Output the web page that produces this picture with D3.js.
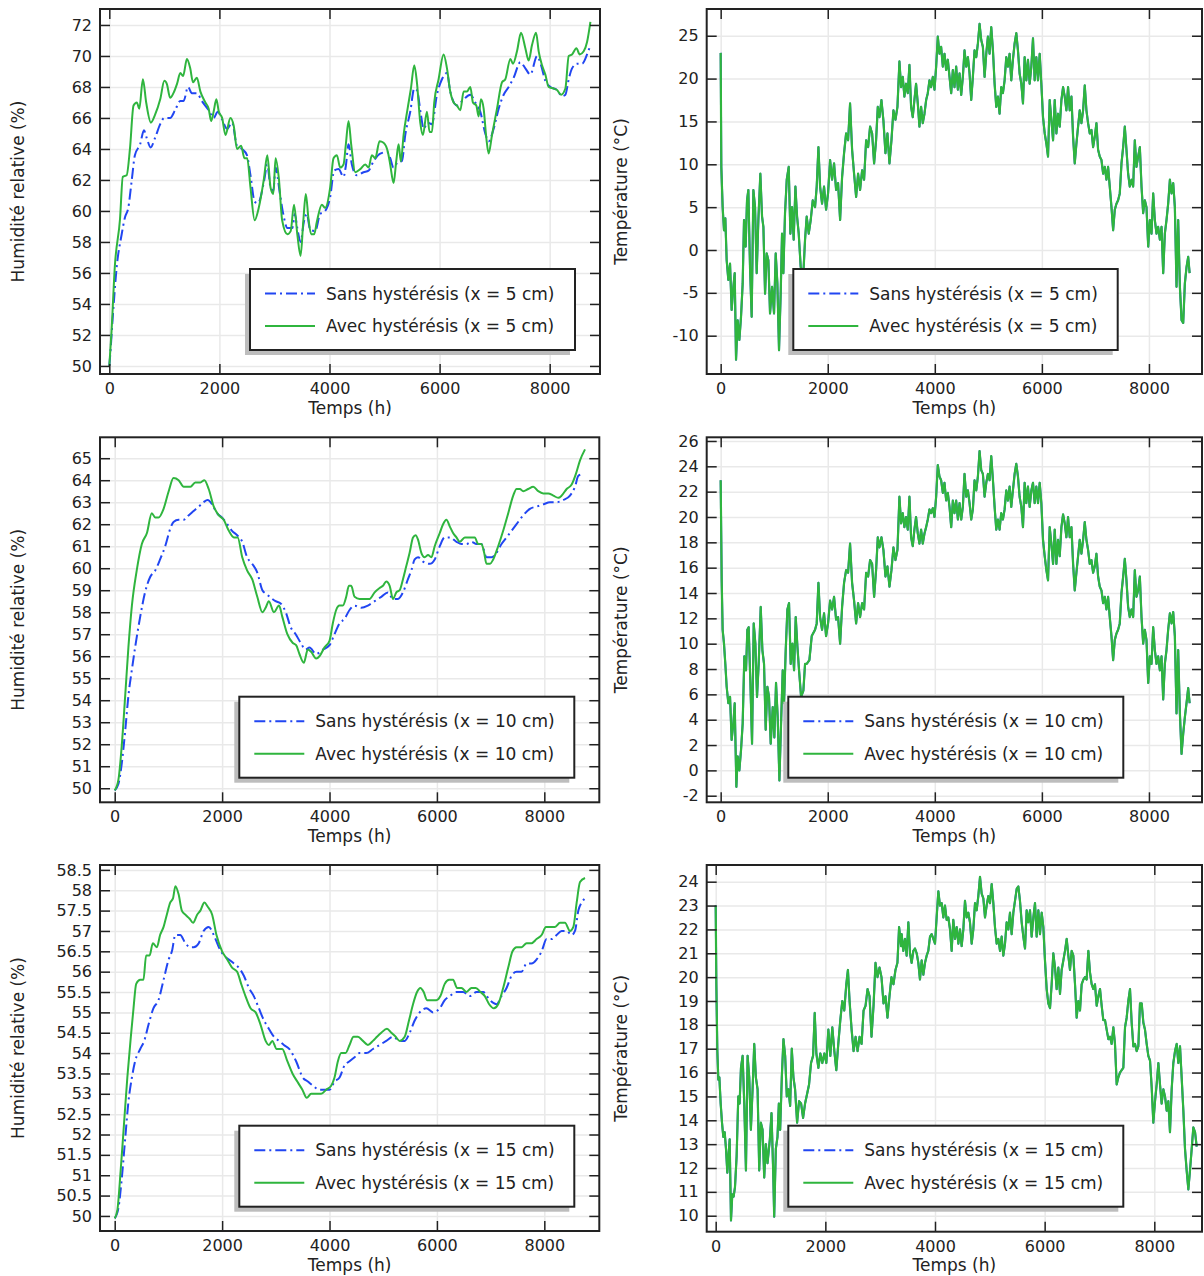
<!DOCTYPE html>
<html><head><meta charset="utf-8">
<script src="https://cdn.jsdelivr.net/npm/d3@7"></script>
<style>
html,body{margin:0;padding:0;background:#fff;}
svg{display:block;font-family:"DejaVu Sans",Verdana,sans-serif;}
</style></head><body>
<svg id="chart" width="1204" height="1276"></svg>
<script>
// ---------- DATA (hours, value) ----------
const xTicks = [0, 2000, 4000, 6000, 8000];
const hrTicks5 = [50,52,54,56,58,60,62,64,66,68,70,72];
const hrTicks10 = [50,51,52,53,54,55,56,57,58,59,60,61,62,63,64,65];
const hrTicks15 = [50,50.5,51,51.5,52,52.5,53,53.5,54,54.5,55,55.5,56,56.5,57,57.5,58,58.5];
const tTicks5 = [-10,-5,0,5,10,15,20,25];
const tTicks10 = [-2,0,2,4,6,8,10,12,14,16,18,20,22,24,26];
const tTicks15 = [10,11,12,13,14,15,16,17,18,19,20,21,22,23,24];

const hr5Avec = [[0,50],[40,52.2],[100,56.4],[195,59.5],[245,62.2],[315,62.3],[375,64],[440,66.8],[500,67],[545,66.6],[610,68.5],[670,67],[755,65.7],[830,66.2],[925,67.2],[1000,68.4],[1045,68.2],[1105,67.3],[1165,67.6],[1230,68.2],[1290,68.9],[1340,68.7],[1410,69.8],[1470,69.2],[1520,68.3],[1590,68.6],[1655,67.7],[1745,67],[1805,66.6],[1850,65.8],[1895,66.4],[1945,67.2],[1990,66.4],[2050,66],[2110,64.9],[2200,66],[2260,65.5],[2320,64],[2395,64.2],[2455,63.4],[2505,63.4],[2565,61.5],[2640,59.4],[2715,60.2],[2810,62.1],[2870,63.6],[2930,61.5],[2980,61.1],[3020,63.4],[3080,62.1],[3140,59.4],[3235,58.5],[3295,58.7],[3355,60.4],[3415,58.5],[3475,57.1],[3525,59.4],[3570,61.1],[3618,59.5],[3667,58.5],[3722,58.5],[3770,59.3],[3861,60.4],[3921,60.2],[4012,61.5],[4073,63.4],[4134,63.6],[4194,62.8],[4255,63],[4297,64.3],[4346,65.8],[4394,64.3],[4467,62.5],[4558,62.7],[4649,63],[4710,62.8],[4770,63.6],[4831,63.4],[4910,64.5],[4982,64.4],[5061,63.8],[5103,63],[5164,61.8],[5212,63.2],[5255,64.3],[5297,63.2],[5346,64.9],[5419,66.6],[5479,67.9],[5540,69.4],[5588,68.3],[5649,65.7],[5697,64.9],[5770,66.4],[5818,65.1],[5861,65.1],[5903,67],[5982,68.5],[6073,70.1],[6134,69.2],[6194,67.7],[6255,67],[6315,66.8],[6376,66.5],[6437,67.7],[6497,67.7],[6558,68],[6606,67],[6667,66.8],[6709,66.1],[6752,67.2],[6800,66.6],[6849,64.7],[6891,63.7],[6952,64.9],[7043,66.6],[7134,68.3],[7194,68.5],[7285,69.8],[7334,69.5],[7406,70.3],[7479,71.5],[7558,70.5],[7618,69.7],[7679,70.7],[7752,71.5],[7800,70.3],[7861,69.4],[7921,68.8],[7982,68],[8073,67.9],[8134,67.8],[8206,67.5],[8285,67.9],[8346,70],[8406,70.1],[8485,70.5],[8546,70.1],[8618,70.3],[8679,70.9],[8740,72.2]];
const hr5Sans = [[0,50],[12,50.5],[60,53],[135,56.4],[225,58.5],[285,59.6],[345,60.2],[405,61.9],[465,63.6],[560,64.3],[630,65.2],[680,64.7],[750,64.1],[830,64.7],[925,65.6],[1000,66],[1105,66],[1195,66.5],[1290,67.1],[1350,67.1],[1430,68],[1500,67.6],[1590,67.6],[1680,67.1],[1805,66.5],[1895,66],[1970,66.4],[2050,65.9],[2140,65.3],[2230,65.7],[2320,64.2],[2410,64],[2500,63.6],[2565,62.3],[2640,60.6],[2700,60.5],[2810,61.9],[2870,63],[2930,61.5],[2980,61.3],[3020,62.8],[3100,61.1],[3160,59.8],[3235,58.9],[3325,58.9],[3370,59.8],[3415,58.9],[3475,58],[3535,59.3],[3588,59.8],[3649,58.8],[3740,58.7],[3830,59.8],[3921,60],[4012,60.9],[4085,62.6],[4164,62.7],[4255,62.2],[4297,62.9],[4346,64.3],[4406,63],[4497,62.3],[4618,62.5],[4710,62.6],[4800,63.2],[4922,63.7],[5043,63.8],[5103,63.4],[5164,62.8],[5255,63.2],[5315,63.2],[5376,64.9],[5467,66.4],[5540,67.9],[5588,67.8],[5661,66.2],[5709,65.3],[5782,65.7],[5861,65.6],[5952,67.5],[6043,68.5],[6134,68.9],[6194,67.7],[6315,66.8],[6437,67.2],[6558,67.5],[6649,67],[6740,66.4],[6830,65],[6891,64.5],[6982,65.3],[7073,66.6],[7164,67.5],[7255,68],[7346,68.6],[7467,69.6],[7558,69.2],[7649,68.8],[7770,70],[7843,69.4],[7921,68.4],[8012,68],[8134,67.8],[8225,67.4],[8285,67.5],[8346,68.5],[8406,69.2],[8497,69.5],[8588,69.5],[8679,70.1],[8740,70.7]];

const hr10Avec = [[0,49.9],[70,50.4],[130,51.9],[195,54.2],[255,56.4],[320,58.3],[410,59.9],[505,61.1],[600,61.6],[690,62.5],[755,62.3],[815,62.3],[910,62.7],[1005,63.5],[1095,64.1],[1190,64],[1285,63.7],[1410,63.7],[1500,63.9],[1595,63.9],[1670,64],[1750,63.6],[1845,62.8],[1940,62.4],[2030,62.2],[2125,61.7],[2220,61.4],[2290,61.4],[2375,60.5],[2465,59.9],[2560,59.5],[2655,58.7],[2750,58],[2810,58.2],[2870,58.5],[2965,58],[3060,58.3],[3120,57.8],[3215,57],[3316,56.6],[3378,56.5],[3440,56.1],[3521,55.7],[3596,56.3],[3658,56.2],[3751,55.9],[3813,56],[3907,56.4],[4000,56.7],[4062,57.5],[4124,58.1],[4187,58.3],[4249,58.3],[4311,58.7],[4361,59.2],[4404,59.2],[4467,58.7],[4560,58.6],[4653,58.6],[4746,58.6],[4840,58.9],[4933,59.1],[4995,59.2],[5057,59.4],[5120,59.2],[5182,58.6],[5244,58.9],[5306,59],[5368,59.5],[5430,60.1],[5492,60.7],[5555,61.4],[5604,61.5],[5648,61.3],[5710,60.7],[5772,60.5],[5835,60.6],[5897,60.5],[5959,61],[6053,61.6],[6115,62],[6177,62.2],[6239,61.9],[6301,61.6],[6364,61.4],[6426,61.2],[6519,61.4],[6612,61.4],[6705,61.4],[6768,61.1],[6830,61.1],[6880,60.7],[6923,60.2],[6986,60.2],[7048,60.4],[7141,61],[7234,61.7],[7328,62.5],[7421,63.3],[7483,63.6],[7545,63.6],[7607,63.5],[7701,63.6],[7794,63.7],[7887,63.5],[7981,63.4],[8074,63.4],[8167,63.3],[8260,63.2],[8323,63.3],[8416,63.6],[8509,63.8],[8590,64.3],[8665,64.9],[8758,65.4]];
const hr10Sans = [[0,49.9],[70,50.2],[130,51.1],[195,52.6],[255,54.2],[320,55.4],[380,56.4],[475,57.8],[565,58.9],[660,59.6],[755,59.9],[845,60.4],[940,61],[1035,61.8],[1095,62.1],[1190,62.2],[1285,62.2],[1375,62.4],[1470,62.6],[1565,62.8],[1655,63],[1730,63.1],[1815,62.9],[1905,62.5],[2000,62.3],[2095,62],[2185,61.7],[2280,61.5],[2375,61.2],[2465,60.5],[2560,60.2],[2655,59.8],[2750,59],[2840,58.8],[2935,58.6],[2995,58.5],[3090,58.4],[3185,58],[3280,57.3],[3370,57],[3465,56.6],[3555,56.3],[3627,56.4],[3751,56.1],[3876,56.3],[4000,56.5],[4093,57],[4187,57.5],[4280,57.7],[4373,58.1],[4467,58.3],[4591,58.2],[4715,58.3],[4840,58.5],[4964,58.7],[5089,58.9],[5182,58.6],[5275,58.6],[5368,58.9],[5461,59.5],[5524,59.9],[5586,60.4],[5648,60.5],[5742,60.3],[5866,60.2],[5959,60.4],[6053,61],[6146,61.4],[6239,61.4],[6364,61.2],[6457,61.1],[6550,61.1],[6644,61.2],[6737,61.1],[6830,61.1],[6923,60.5],[7017,60.5],[7110,60.7],[7203,61.1],[7297,61.4],[7390,61.7],[7483,62],[7607,62.4],[7732,62.7],[7856,62.8],[7981,62.9],[8105,63],[8229,63],[8354,63.1],[8478,63.3],[8571,63.7],[8634,64.2],[8727,64.3]];

const hr15Avec = [[0,49.94],[50,50.15],[110,51.1],[175,52.3],[235,53.4],[300,54.4],[350,55.1],[400,55.7],[475,55.8],[535,55.8],[585,56.4],[650,56.4],[710,56.7],[785,56.6],[845,56.9],[910,57.1],[970,57.4],[1035,57.7],[1085,57.8],[1130,58.1],[1190,57.9],[1250,57.5],[1315,57.4],[1395,57.3],[1460,57.2],[1535,57.4],[1595,57.5],[1670,57.7],[1730,57.6],[1815,57.4],[1895,56.9],[2000,56.5],[2095,56.3],[2185,56.1],[2280,56],[2355,55.7],[2435,55.4],[2530,55.1],[2625,55],[2715,54.7],[2810,54.3],[2870,54.2],[2935,54.3],[3015,54.1],[3120,54.1],[3215,53.8],[3310,53.5],[3400,53.3],[3495,53.1],[3575,52.9],[3658,53],[3751,53],[3845,53],[3938,53.1],[4031,53.2],[4093,53.4],[4156,53.8],[4218,54],[4299,54],[4373,54.2],[4448,54.4],[4529,54.4],[4622,54.3],[4715,54.2],[4809,54.3],[4883,54.4],[4964,54.5],[5070,54.6],[5151,54.5],[5232,54.4],[5306,54.3],[5400,54.4],[5480,54.8],[5555,55.2],[5630,55.5],[5692,55.6],[5754,55.5],[5816,55.3],[5897,55.3],[5990,55.3],[6065,55.4],[6146,55.7],[6227,55.8],[6301,55.8],[6376,55.6],[6457,55.6],[6550,55.5],[6644,55.6],[6724,55.6],[6811,55.5],[6892,55.4],[6973,55.2],[7060,55.1],[7141,55.2],[7234,55.6],[7328,56.1],[7408,56.5],[7483,56.6],[7577,56.6],[7670,56.7],[7763,56.7],[7856,56.8],[7950,56.9],[8031,57.1],[8105,57.1],[8199,57.1],[8292,57.2],[8385,57.2],[8478,57],[8541,57.1],[8603,57.7],[8665,58.2],[8758,58.3]];
const hr15Sans = [[0,49.94],[70,50.2],[130,50.9],[195,51.9],[255,52.8],[320,53.4],[380,53.8],[475,54.1],[550,54.3],[630,54.7],[720,55.1],[815,55.3],[910,55.8],[1005,56.3],[1065,56.5],[1130,56.9],[1220,56.9],[1315,56.7],[1410,56.6],[1470,56.6],[1565,56.7],[1655,57],[1750,57.1],[1845,56.9],[1940,56.6],[2030,56.4],[2125,56.3],[2220,56.2],[2310,56.1],[2405,55.9],[2500,55.6],[2590,55.4],[2685,55.1],[2780,54.8],[2870,54.6],[2965,54.4],[3060,54.3],[3150,54.2],[3254,54.1],[3378,53.8],[3502,53.4],[3596,53.3],[3689,53.2],[3813,53.1],[3907,53.1],[4000,53.1],[4093,53.3],[4187,53.4],[4280,53.7],[4373,53.8],[4467,53.9],[4560,54],[4684,54],[4809,54.1],[4933,54.2],[5057,54.3],[5182,54.4],[5306,54.3],[5400,54.3],[5493,54.5],[5586,54.8],[5679,55],[5804,55.1],[5928,55],[6053,55.1],[6146,55.3],[6239,55.4],[6364,55.5],[6488,55.5],[6612,55.4],[6737,55.5],[6861,55.5],[6986,55.3],[7110,55.2],[7203,55.4],[7297,55.6],[7390,55.9],[7483,56],[7577,56],[7670,56.2],[7763,56.2],[7856,56.3],[7950,56.5],[8043,56.8],[8136,56.8],[8229,56.9],[8323,57],[8416,57],[8509,56.9],[8571,57],[8634,57.5],[8696,57.7],[8758,57.8]];

const temp5Avec = [[0,23],[12,9.7],[37,5],[62,2.3],[87,3.7],[112,-1.2],[143,-3.5],[175,-1.6],[205,-7],[237,-4.3],[262,-2.7],[287,-12.8],[318,-8.2],[349,-10.5],[380,-7.8],[411,-3.9],[436,3.5],[467,0.4],[492,5.8],[517,7],[548,-2],[579,-7.8],[611,7],[642,5],[673,-2.7],[704,3.5],[741,8.9],[773,3.9],[798,2.7],[829,-5.1],[860,-0.4],[891,-1.2],[922,-7.4],[960,-4.3],[997,-7.4],[1028,-0.4],[1059,-3.9],[1090,-11.7],[1121,-5.1],[1146,1.9],[1171,-2.7],[1202,4.3],[1234,8.2],[1271,9.7],[1302,1.9],[1333,5],[1364,1.2],[1396,7.4],[1427,3.9],[1458,1.9],[1495,-2],[1545,-2.7],[1576,1.2],[1607,3.9],[1645,1.9],[1682,3.5],[1720,5.8],[1763,5],[1794,7.4],[1826,12],[1857,7.4],[1894,5.4],[1931,7.4],[1969,4.7],[2006,6.6],[2044,10.5],[2081,8.2],[2118,10.1],[2156,7],[2193,7.8],[2231,3.5],[2268,8.5],[2305,11.3],[2343,13.6],[2380,12.8],[2417,17.1],[2455,11.7],[2492,8.9],[2530,6.2],[2567,8.9],[2604,7],[2642,9.3],[2679,8.2],[2717,12.8],[2754,12],[2791,14.4],[2829,13.6],[2866,10.1],[2903,12.8],[2935,16.7],[2966,15.5],[3003,17.5],[3040,15.1],[3078,11.3],[3115,13.6],[3153,10.1],[3190,12.8],[3227,16.3],[3265,15.2],[3302,16.7],[3339,22],[3370,19],[3401,20.2],[3432,17.9],[3463,19.4],[3495,18.3],[3526,21.6],[3557,16.7],[3588,15.5],[3619,17.5],[3650,19.4],[3682,17.1],[3713,14.4],[3744,16.7],[3775,14.8],[3807,15.9],[3838,17.5],[3869,18.3],[3900,19.8],[3931,19],[3963,20.2],[3994,18.7],[4025,21.4],[4056,24.9],[4087,22.9],[4118,23.7],[4150,21.4],[4181,22.9],[4212,21],[4243,22.2],[4275,20.2],[4306,18.3],[4337,21],[4368,19],[4399,21.4],[4431,18.7],[4462,20.6],[4493,18.1],[4524,20.2],[4555,23.3],[4587,21.4],[4618,22.5],[4649,20.6],[4680,17.5],[4711,20.2],[4742,23.3],[4774,22.5],[4805,24.1],[4836,26.4],[4867,24.5],[4898,23.7],[4930,20.2],[4961,22.9],[4992,24.9],[5023,22.9],[5054,26],[5086,23.3],[5117,19.4],[5148,16.7],[5179,17.9],[5210,15.9],[5241,19],[5272,18.3],[5304,19.8],[5335,22.5],[5366,21.4],[5397,22.9],[5428,19.8],[5459,22.2],[5491,24.1],[5522,25.3],[5553,23.3],[5584,20.6],[5616,19.4],[5647,17.1],[5678,22.5],[5709,19.8],[5740,22.2],[5772,19.4],[5803,21.4],[5834,24.7],[5865,19.8],[5896,22.5],[5928,19.8],[5959,22.9],[5990,19.4],[6021,15.5],[6053,13.6],[6084,12.4],[6115,10.9],[6146,17.5],[6177,15.2],[6209,12.8],[6240,17.5],[6271,13.6],[6302,15.9],[6333,14.4],[6365,17.5],[6396,19],[6427,17.9],[6458,16.3],[6489,19],[6520,16.3],[6552,17.9],[6583,13.2],[6614,10.1],[6645,12.4],[6676,14.4],[6707,16.3],[6739,14.8],[6770,16.3],[6801,19.2],[6832,16.3],[6863,14.8],[6894,13.6],[6926,14],[6957,12],[6988,13.2],[7019,14.8],[7050,11.7],[7081,10.9],[7113,10.5],[7144,8.9],[7175,9.7],[7206,8.2],[7237,9.7],[7268,7.4],[7300,5],[7331,2.3],[7362,4.7],[7393,5.4],[7424,5.8],[7455,6.6],[7487,10.1],[7518,12],[7549,14.4],[7580,11.7],[7611,8.9],[7642,7.4],[7674,8.2],[7705,7.4],[7736,12.8],[7767,9.7],[7798,10.9],[7830,12],[7861,7.4],[7892,4.3],[7923,5.8],[7954,5],[7986,0.4],[8017,3.5],[8048,1.9],[8079,6.6],[8110,3.5],[8141,1.9],[8172,2.7],[8204,1.2],[8235,2.7],[8266,-2.7],[8297,1.9],[8328,3.5],[8359,5.4],[8391,8.2],[8422,6.6],[8453,7.8],[8484,5],[8515,-4.3],[8546,3.5],[8578,-4.3],[8609,-8.2],[8640,-8.5],[8671,-3.9],[8702,-2],[8733,-0.8],[8760,-2.7]];

const temp10Avec = [[0,22.9],[19,15],[37,11.1],[62,10],[87,8.4],[112,6.6],[143,5.3],[175,5.8],[205,2.4],[237,3.7],[262,5.3],[293,-1.3],[318,1.1],[349,0],[380,1.6],[411,3.7],[442,9],[474,7.9],[498,11.1],[523,11.3],[555,6.9],[586,2.1],[617,11.6],[648,10],[679,5.8],[710,8.4],[748,12.9],[779,9.5],[810,8.4],[841,3.2],[872,6.6],[903,5.8],[935,2.1],[972,5],[1003,2.6],[1034,6.9],[1065,4.2],[1097,-0.8],[1128,3.7],[1159,7.9],[1184,5.3],[1215,9.5],[1246,12.7],[1277,13.2],[1308,8.4],[1340,10],[1371,7.9],[1402,12.1],[1433,9.8],[1464,7.9],[1502,5.8],[1545,6.3],[1576,8.4],[1607,8.4],[1657,8.7],[1701,10.6],[1763,11.1],[1794,11.6],[1826,14.8],[1857,12.1],[1894,11.1],[1931,12.4],[1969,10.6],[2006,11.6],[2044,13.4],[2081,12.7],[2118,13.7],[2156,11.9],[2193,12.1],[2231,10],[2268,12.9],[2305,14.8],[2343,15.8],[2380,15.6],[2417,17.9],[2455,14.8],[2492,13.4],[2530,11.6],[2567,13.2],[2604,12.1],[2642,13.2],[2679,12.7],[2717,15.6],[2754,15.3],[2791,16.6],[2829,16.3],[2866,13.7],[2903,15.8],[2935,18.4],[2966,17.6],[3003,18.4],[3040,17.4],[3078,15.3],[3115,16.1],[3153,14.5],[3190,15.8],[3227,17.6],[3265,16.6],[3302,17.4],[3339,21.6],[3370,19.5],[3401,20.3],[3432,19.2],[3463,20],[3495,19],[3526,21.6],[3557,18.4],[3588,17.7],[3619,19],[3650,20],[3682,18.7],[3713,17.9],[3744,19],[3775,17.9],[3807,18.7],[3838,19.2],[3869,19.8],[3900,20.6],[3931,20.3],[3963,20.7],[3994,20],[4025,21.6],[4056,24.1],[4087,23.2],[4118,22.9],[4150,21.9],[4181,22.7],[4212,21.3],[4243,21.9],[4275,20.8],[4306,19.2],[4337,21.3],[4368,20.3],[4399,21.3],[4431,19.8],[4462,21.1],[4493,19.8],[4524,20.8],[4555,23.4],[4587,21.6],[4618,22.1],[4649,21.1],[4680,19.8],[4711,20.6],[4742,22.9],[4774,22.1],[4805,23.2],[4836,25.2],[4867,23.7],[4898,23.4],[4930,21.6],[4961,22.7],[4992,23.4],[5023,22.9],[5054,24.8],[5086,22.9],[5117,20.8],[5148,19],[5179,19.8],[5210,19],[5241,20.3],[5272,19.8],[5304,20.6],[5335,22.1],[5366,21.3],[5397,22.4],[5428,20.8],[5459,22.1],[5491,23.4],[5522,24.2],[5553,23.2],[5584,21.6],[5616,20.8],[5647,19.2],[5678,22.7],[5709,21.1],[5740,22.4],[5772,20.8],[5803,22.1],[5834,22.7],[5865,21.1],[5896,22.4],[5928,21.1],[5959,22.7],[5990,21.1],[6021,18.2],[6053,16.9],[6084,15.8],[6115,15],[6146,19.2],[6177,17.9],[6209,16.3],[6240,19],[6271,16.3],[6302,18.2],[6333,16.9],[6365,19.2],[6396,20.2],[6427,19.5],[6458,18.4],[6489,20],[6520,18.4],[6552,19.2],[6583,16.3],[6614,14.2],[6645,15.6],[6676,16.9],[6707,18.2],[6739,17.1],[6770,18.2],[6801,19.6],[6832,18.2],[6863,17.4],[6894,16.3],[6926,16.6],[6957,15.6],[6988,16.1],[7019,17.1],[7050,15.3],[7081,14.5],[7113,14.2],[7144,13.2],[7175,13.7],[7206,12.7],[7237,13.7],[7268,12.1],[7300,10.6],[7331,8.7],[7362,10.3],[7393,10.8],[7424,11.1],[7455,11.6],[7487,14],[7518,15.3],[7549,16.7],[7580,15],[7611,12.9],[7642,12.1],[7674,12.7],[7705,12.1],[7736,15.8],[7767,13.7],[7798,14.2],[7830,15.3],[7861,12.1],[7892,10],[7923,11.1],[7954,10.3],[7986,6.9],[8017,9],[8048,8.4],[8079,11.3],[8110,9.5],[8141,8.4],[8172,9],[8204,7.9],[8235,9],[8266,5.6],[8297,8.4],[8328,9.5],[8359,11.1],[8391,12.4],[8422,11.6],[8453,12.5],[8484,10.6],[8515,4.5],[8546,9.5],[8578,4.5],[8609,1.3],[8640,2.9],[8671,4.2],[8702,5.3],[8733,6.5],[8760,5.3]];

const temp15Avec = [[0,23],[12,19.7],[30,16.9],[48,15.7],[67,15.8],[91,14.7],[115,13.9],[139,13.3],[164,13.5],[188,12.8],[212,11.8],[236,12.6],[255,13.2],[279,9.8],[303,10.9],[327,10.8],[352,11.2],[382,12.5],[412,15],[436,14.7],[461,16.2],[491,16.7],[521,14.7],[552,11.9],[582,16.7],[612,15.8],[642,13.6],[673,15.3],[703,17.2],[733,15.8],[764,15.3],[794,11.9],[824,13.9],[855,13.6],[885,11.6],[915,13],[945,12.2],[988,13.2],[1018,14.3],[1048,11.9],[1067,9.96],[1097,12.8],[1127,13.3],[1152,14.7],[1176,13.6],[1206,15.8],[1236,17.4],[1267,16.7],[1297,15],[1327,15.3],[1358,14.6],[1388,17],[1418,15.8],[1448,15.3],[1485,13.9],[1521,14.8],[1558,14.7],[1594,14.1],[1630,14.7],[1667,15.1],[1703,15.5],[1739,16.4],[1776,16.7],[1806,18.5],[1836,16.8],[1873,16.2],[1909,16.8],[1945,16.4],[1982,16.8],[2018,16.4],[2055,17.8],[2091,16.7],[2127,17.9],[2164,16.9],[2200,16.1],[2236,17.2],[2273,18.2],[2309,19],[2345,18.6],[2382,19.7],[2412,20.3],[2442,19],[2479,17.8],[2515,16.9],[2552,17.5],[2588,16.9],[2624,17.5],[2661,17.2],[2697,18.6],[2733,18.8],[2770,19.5],[2806,19.2],[2842,17.5],[2879,18.8],[2915,20.6],[2952,20],[2988,20.4],[3024,20],[3061,18.9],[3097,19.2],[3133,18.3],[3170,19.2],[3206,20],[3242,19.7],[3279,20.3],[3315,20.6],[3345,22.1],[3382,21.3],[3392,21.8],[3422,21.1],[3453,21.6],[3483,20.9],[3514,22.3],[3544,21],[3574,20.6],[3605,21.1],[3635,21.2],[3666,21],[3696,20.6],[3726,19.9],[3757,20.7],[3787,20.1],[3818,20.6],[3848,20.9],[3878,21.1],[3909,21.7],[3939,21.8],[3970,21.6],[4000,21.4],[4030,22.5],[4061,23.6],[4091,23],[4122,23.1],[4152,22.5],[4182,23],[4213,22.4],[4243,22.5],[4274,22],[4304,21.1],[4334,22.4],[4365,21.6],[4395,22.1],[4426,21.4],[4456,22],[4486,21.3],[4517,22],[4547,23.2],[4578,22.5],[4608,22.7],[4638,22.3],[4669,21.4],[4699,22],[4730,23.1],[4760,22.8],[4790,23.4],[4821,24.2],[4851,23.5],[4882,23.3],[4912,22.5],[4942,23],[4973,23.4],[5003,23.1],[5034,23.9],[5064,23.1],[5094,22.1],[5125,21.4],[5155,21.6],[5186,21.1],[5216,21.7],[5246,20.9],[5277,21.4],[5307,22.3],[5338,22],[5368,22.7],[5398,21.8],[5429,22.7],[5459,23.2],[5490,23.7],[5520,23.8],[5550,23.2],[5581,22.3],[5611,21.7],[5642,21.2],[5672,22.8],[5702,22.3],[5733,22.8],[5763,21.7],[5794,22.5],[5824,23.1],[5854,21.7],[5885,22.8],[5915,21.8],[5946,22.7],[5976,22.1],[6006,20.7],[6037,19.5],[6067,18.9],[6098,18.7],[6128,19.7],[6158,21],[6189,20.4],[6219,19.5],[6250,20.4],[6280,19.3],[6310,20.3],[6341,20.7],[6371,21.1],[6402,21.6],[6432,20.9],[6462,20.3],[6493,21.1],[6523,20.9],[6554,19.7],[6584,18.3],[6614,19],[6645,18.6],[6675,19.7],[6706,19.9],[6736,20],[6766,19.9],[6797,21.1],[6827,20.2],[6858,19.7],[6888,19.5],[6918,19.7],[6949,18.8],[6979,19.2],[7010,19.5],[7040,18.8],[7070,18.2],[7101,18.2],[7131,17.8],[7162,17.4],[7192,17.5],[7222,17.2],[7253,17.9],[7283,17.2],[7314,15.5],[7344,15.8],[7374,16],[7405,16.1],[7435,16.2],[7466,17.9],[7496,18.3],[7526,19],[7557,19.5],[7587,18.1],[7618,17.1],[7648,17.2],[7678,16.9],[7709,17.1],[7739,18.9],[7770,18.9],[7800,18.1],[7830,17.8],[7861,17.2],[7891,16.7],[7922,16.5],[7952,15.4],[7982,13.9],[8013,14.8],[8043,15.5],[8074,16.4],[8104,15.5],[8134,14.7],[8165,15.3],[8195,15],[8226,14.4],[8256,14.8],[8286,13.5],[8317,15.3],[8347,16.4],[8378,16.9],[8408,17.2],[8438,16.4],[8469,17.1],[8499,15.8],[8530,14.4],[8560,12.8],[8590,11.9],[8621,11.1],[8651,11.9],[8682,12.8],[8712,13.7],[8743,13.5],[8773,12.9]];

// Without hysteresis, the temperature curves coincide with the curves with hysteresis
const temp5Sans = temp5Avec;
const temp10Sans = temp10Avec;
const temp15Sans = temp15Avec;

const depthLabels = ["5 cm", "10 cm", "15 cm"];
const seriesNames = ["Sans hystérésis", "Avec hystérésis"];
const titleHR = "Humidité relative (%)";
const titleT = "Température (°C)";
const titleX = "Temps (h)";

// ---------- LAYOUT ----------
const panels = [
  {f:[100,9,600,374], xd:[-169,8914], yd:[49.48,73.03], yt:hrTicks5, title:titleHR, tx:23.5, sans:hr5Sans, avec:hr5Avec, smooth:true, depth:0, lg:[250,269,325]},
  {f:[706.7,9,1202,374], xd:[-261,8991], yd:[-14.47,28.12], yt:tTicks5, title:titleT, tx:627, sans:temp5Sans, avec:temp5Avec, smooth:false, depth:0, lg:[793.3,269,324.4]},
  {f:[100,437.3,599.3,802.3], xd:[-274,9024], yd:[49.36,65.95], yt:hrTicks10, title:titleHR, tx:23.5, sans:hr10Sans, avec:hr10Avec, smooth:true, depth:1, lg:[239.3,696.7,335]},
  {f:[706.7,437.3,1202,802.3], xd:[-261,8991], yd:[-2.52,26.29], yt:tTicks10, title:titleT, tx:627, sans:temp10Sans, avec:temp10Avec, smooth:false, depth:1, lg:[788.3,696.7,335]},
  {f:[100,865,599.3,1231], xd:[-274,9024], yd:[49.63,58.62], yt:hrTicks15, title:titleHR, tx:23.5, sans:hr15Sans, avec:hr15Avec, smooth:true, depth:2, lg:[239.3,1125.7,335]},
  {f:[706.7,865,1202,1231.7], xd:[-164,8870], yd:[9.33,24.70], yt:tTicks15, title:titleT, tx:627, sans:temp15Sans, avec:temp15Avec, smooth:false, depth:2, lg:[788.3,1125.7,335]}
];

const BLUE = "#2146f2", GREEN = "#2fb53e", TXT = "#222";
const svg = d3.select("#chart");

panels.forEach((p, i) => {
  const [x0, y0, x1, y1] = p.f;
  const w = x1 - x0, h = y1 - y0;
  const x = d3.scaleLinear().domain(p.xd).range([0, w]);
  const y = d3.scaleLinear().domain(p.yd).range([h, 0]);
  const g = svg.append("g").attr("transform", `translate(${x0},${y0})`);

  g.append("clipPath").attr("id", "clip" + i).append("rect").attr("width", w).attr("height", h);

  // grid
  const gx = g.append("g").call(d3.axisBottom(x).tickValues(xTicks).tickSize(h).tickFormat(""));
  const gy = g.append("g").call(d3.axisLeft(y).tickValues(p.yt).tickSize(-w).tickFormat(""));
  [gx, gy].forEach(s => { s.select(".domain").remove(); s.selectAll("line").attr("stroke", "#e9e9e9").attr("stroke-width", 1.5); });

  // lines
  const line = d3.line().x(d => x(d[0])).y(d => y(d[1])).curve(p.smooth ? d3.curveMonotoneX : d3.curveLinear);
  const lg = g.append("g").attr("clip-path", `url(#clip${i})`);
  lg.append("path").datum(p.sans).attr("d", line).attr("fill", "none").attr("stroke", BLUE)
    .attr("stroke-width", 2).attr("stroke-dasharray", p.smooth ? "11,4,2,4" : null).attr("stroke-linejoin", "round");
  lg.append("path").datum(p.avec).attr("d", line).attr("fill", "none").attr("stroke", GREEN)
    .attr("stroke-width", p.smooth ? 2 : 2.2).attr("stroke-linejoin", "round");

  // axes (inward ticks on all sides)
  const axB = g.append("g").attr("transform", `translate(0,${h})`)
    .call(d3.axisBottom(x).tickValues(xTicks).tickSizeInner(-10).tickSizeOuter(0).tickPadding(8.5).tickFormat(d => String(d)));
  const axT = g.append("g").call(d3.axisTop(x).tickValues(xTicks).tickSizeInner(-10).tickSizeOuter(0).tickFormat(""));
  const axL = g.append("g").call(d3.axisLeft(y).tickValues(p.yt).tickSizeInner(-10).tickSizeOuter(0).tickPadding(8).tickFormat(d => String(d)));
  const axR = g.append("g").attr("transform", `translate(${w},0)`)
    .call(d3.axisRight(y).tickValues(p.yt).tickSizeInner(-10).tickSizeOuter(0).tickFormat(""));
  [axB, axT, axL, axR].forEach(a => {
    a.select(".domain").remove();
    a.selectAll("line").attr("stroke", TXT).attr("stroke-width", 1.5);
    a.selectAll("text").attr("fill", TXT).style("font-size", "16px").style("font-family", '"DejaVu Sans",Verdana,sans-serif');
  });

  // frame
  g.append("rect").attr("width", w).attr("height", h).attr("fill", "none").attr("stroke", TXT).attr("stroke-width", 2);

  // axis titles
  svg.append("text").attr("transform", `translate(${p.tx},${y0 + h / 2}) rotate(-90)`)
    .attr("text-anchor", "middle").attr("fill", TXT).style("font-size", "17px").text(p.title);
  svg.append("text").attr("x", x0 + w / 2).attr("y", y1 + 39.5).attr("text-anchor", "middle")
    .attr("fill", TXT).style("font-size", "17px").text(titleX);

  // legend
  const [lx, ly, lw] = p.lg, lh = 81;
  const L = svg.append("g").attr("transform", `translate(${lx},${ly})`);
  L.append("rect").attr("x", -5).attr("y", 5).attr("width", lw).attr("height", lh).attr("fill", "#bdbdbd");
  L.append("rect").attr("width", lw).attr("height", lh).attr("fill", "#fff").attr("stroke", TXT).attr("stroke-width", 2);
  const rows = [{c: BLUE, dash: "11,4,2,4", name: seriesNames[0]}, {c: GREEN, dash: null, name: seriesNames[1]}];
  rows.forEach((r, k) => {
    const yy = 24.5 + k * 32.5;
    L.append("line").attr("x1", 15).attr("x2", 65).attr("y1", yy).attr("y2", yy)
      .attr("stroke", r.c).attr("stroke-width", 2).attr("stroke-dasharray", r.dash);
    L.append("text").attr("x", 76).attr("y", yy + 6).attr("fill", TXT).style("font-size", "17px")
      .text(`${r.name} (x = ${depthLabels[p.depth]})`);
  });
});
</script>
</body></html>
